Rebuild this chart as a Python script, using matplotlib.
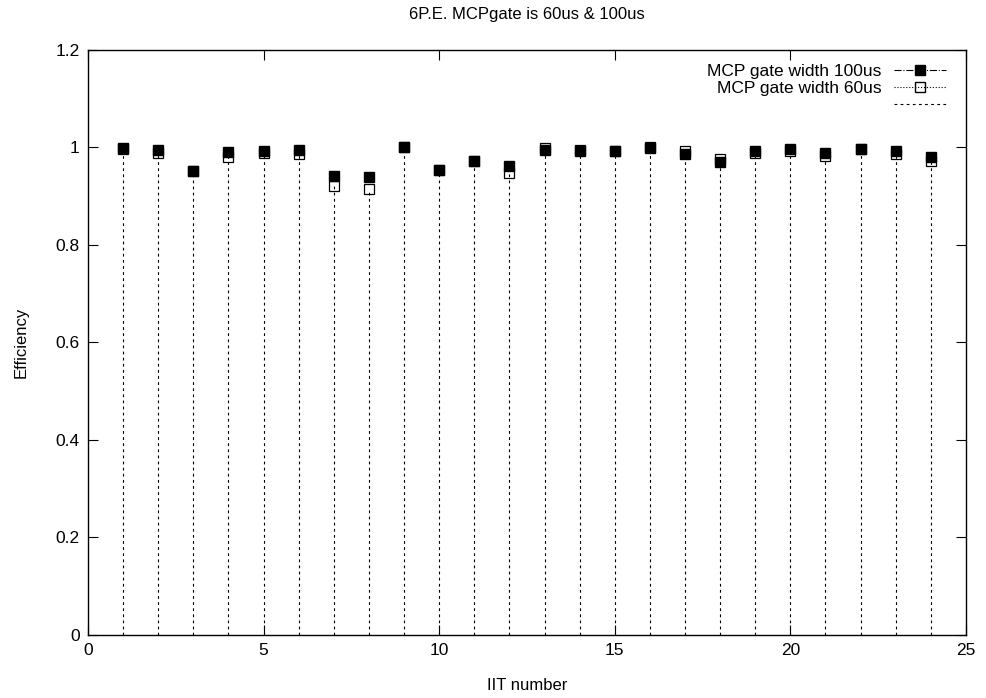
import matplotlib
matplotlib.use("Agg")
import matplotlib.pyplot as plt
from matplotlib.lines import Line2D

plt.rcParams['font.family'] = ['Liberation Sans', 'DejaVu Sans']

iit = list(range(1, 25))
eff_100us = [0.998, 0.994, 0.952, 0.990, 0.993, 0.995, 0.941, 0.939, 1.000, 0.954,
             0.972, 0.962, 0.995, 0.993, 0.993, 0.999, 0.986, 0.970, 0.992, 0.996,
             0.989, 0.996, 0.993, 0.980]
eff_60us = [0.997, 0.988, 0.952, 0.980, 0.988, 0.987, 0.922, 0.914, 1.000, 0.954,
            0.972, 0.947, 0.998, 0.995, 0.993, 1.000, 0.992, 0.977, 0.988, 0.993,
            0.983, 0.996, 0.987, 0.973]

fig = plt.figure(figsize=(9.86, 6.98), dpi=100)
ax = fig.add_axes([0.0892, 0.0903, 0.8905, 0.8381])

# impulses from zero up to each efficiency
ax.vlines(iit, 0, eff_60us, colors='black', linestyles=(0, (2.5, 3)), linewidth=0.8, zorder=1)

ax.plot(iit, eff_100us, linestyle='none', marker='s', markersize=7,
        markerfacecolor='black', markeredgecolor='black', zorder=3)
ax.plot(iit, eff_60us, linestyle='none', marker='s', markersize=7,
        markerfacecolor='none', markeredgecolor='black', markeredgewidth=0.9, zorder=4)

ax.set_xlim(0, 25)
ax.set_ylim(0, 1.2)
ax.set_xticks([0, 5, 10, 15, 20, 25])
ax.set_yticks([0, 0.2, 0.4, 0.6, 0.8, 1.0, 1.2])
ax.set_yticklabels(['0', '0.2', '0.4', '0.6', '0.8', '1', '1.2'])
ax.tick_params(direction='in', top=True, right=True, length=7, width=0.8, labelsize=12.5, pad=6)
for s in ax.spines.values():
    s.set_linewidth(1.0)

ax.set_xlabel('IIT number', fontsize=12, labelpad=14)
ax.set_ylabel('Efficiency', fontsize=12, labelpad=19)
ax.set_title('6P.E. MCPgate is 60us & 100us', fontsize=12, pad=22)

handles = [
    Line2D([], [], color='black', linestyle='-.', linewidth=0.8, marker='s', markersize=7,
           markerfacecolor='black'),
    Line2D([], [], color='black', linestyle=':', linewidth=0.8, marker='s', markersize=7,
           markerfacecolor='none'),
    Line2D([], [], color='black', linestyle=(0, (2.5, 3)), linewidth=0.8),
]
labels = ['MCP gate width 100us', 'MCP gate width 60us', '']
leg = ax.legend(handles, labels, loc='upper right', frameon=False, fontsize=12.5,
                markerfirst=False, handlelength=3.0, handletextpad=0.7,
                labelspacing=0.1, borderaxespad=0.4, bbox_to_anchor=(0.993, 1.0))

fig.savefig('out.png', dpi=100)
